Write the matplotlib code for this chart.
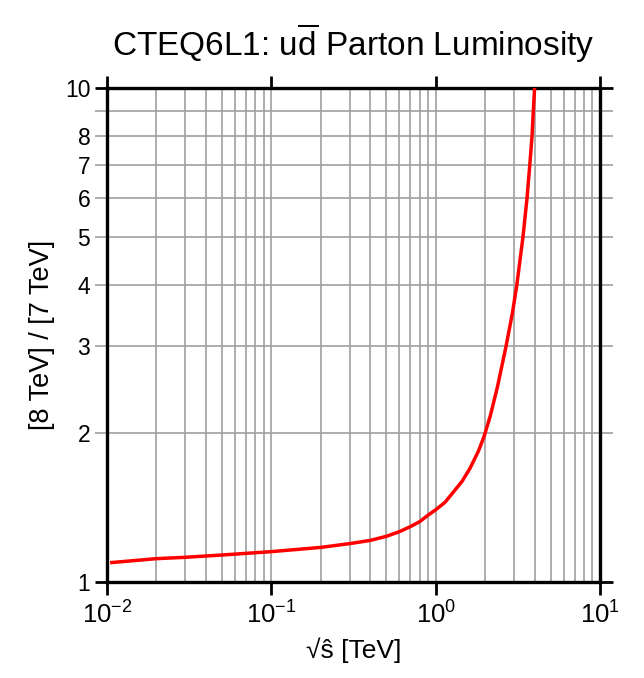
import numpy as np
import matplotlib.pyplot as plt
from matplotlib.ticker import FixedLocator, FuncFormatter

plt.rcParams['font.family'] = ['Liberation Sans', 'DejaVu Sans']
plt.rcParams['mathtext.fontset'] = 'custom'
plt.rcParams['mathtext.rm'] = 'Liberation Sans'
plt.rcParams['mathtext.it'] = 'Liberation Sans:italic'

# ratio of u dbar luminosity, 8 TeV over 7 TeV
sqrt_s = [0.0107, 0.02, 0.03, 0.05, 0.1, 0.2, 0.3, 0.4, 0.5, 0.6, 0.7, 0.8, 0.9,
          1.0, 1.14, 1.28, 1.45, 1.62, 1.82, 1.97, 2.15, 2.375, 2.68, 2.93, 3.12, 3.40, 3.60,
          3.74, 3.86, 3.93, 4.0]
ratio = [1.095, 1.115, 1.122, 1.134, 1.152, 1.175, 1.196, 1.214, 1.237, 1.264, 1.294, 1.325, 1.366,
         1.40, 1.45, 1.52, 1.60, 1.70, 1.84, 1.97, 2.17, 2.48, 3.0, 3.5, 4.0, 5.0, 6.0,
         7.0, 8.0, 9.0, 10.0]

y_major = [1, 10]
y_minor = [2, 3, 4, 5, 6, 7, 8, 9]
y_minor_labels = {2: "2", 3: "3", 4: "4", 5: "5", 6: "6", 7: "7", 8: "8"}
x_major = [1e-2, 1e-1, 1e0, 1e1]

fig = plt.figure(figsize=(6.44, 6.78), dpi=100)
ax = fig.add_axes([107/644, 1 - 582/678, 493/644, 494/678])

ax.plot(sqrt_s, ratio, color="red", lw=2.5, zorder=3)

ax.set_xscale("log")
ax.set_yscale("log")
ax.set_xlim(1e-2, 1e1)
ax.set_ylim(1, 10)

# grid
gc = "#a0a0a0"
ax.grid(True, which="both", color=gc, lw=1.2)
ax.set_axisbelow(True)

ax.yaxis.set_major_locator(FixedLocator(y_major))
ax.yaxis.set_minor_locator(FixedLocator(y_minor))
ax.yaxis.set_major_formatter(FuncFormatter(lambda v, p: "%d" % round(v)))
ax.yaxis.set_minor_formatter(FuncFormatter(lambda v, p: y_minor_labels.get(int(round(v)), "")))

ax.xaxis.set_major_locator(FixedLocator(x_major))
ax.xaxis.set_major_formatter(FuncFormatter(lambda v, p: r"$\mathregular{10^{%d}}$" % round(np.log10(v))))

ax.tick_params(which="major", direction="out", length=9, width=2, color="black",
               top=True, right=True, pad=3)
ax.tick_params(axis="y", which="both", labelsize=16.5)
ax.tick_params(axis="y", which="minor", direction="out", length=9, width=1.2, color=gc,
               left=True, right=True, pad=3)
ax.tick_params(axis="x", which="minor", length=0)
ax.tick_params(axis="x", which="major", pad=5, labelsize=18.5)

for s in ax.spines.values():
    s.set_linewidth(2.4)

ax.set_xlabel("√ŝ [TeV]", fontsize=19, labelpad=6)
ax.set_ylabel("[8 TeV] / [7 TeV]", fontsize=19.5, labelpad=7)
ax.set_title(r"CTEQ6L1: u$\overline{\mathregular{d}}$ Parton Luminosity", fontsize=24, pad=23)

fig.savefig("out.png", dpi=100)
